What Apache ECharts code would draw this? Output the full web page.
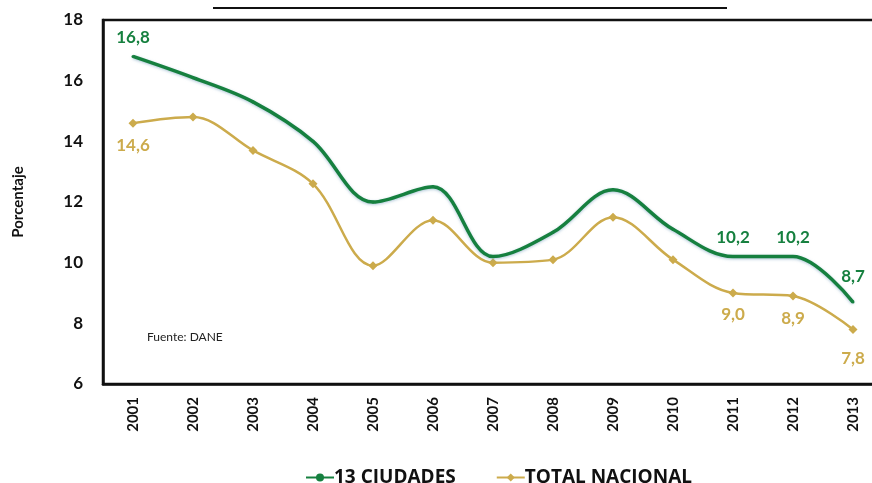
<!DOCTYPE html>
<html>
<head>
<meta charset="utf-8">
<script src="https://cdn.jsdelivr.net/npm/echarts@6/dist/echarts.min.js"></script>
<style>
  html, body { margin: 0; padding: 0; background: #fff; }
  #chart { width: 872px; height: 483px; }
</style>
</head>
<body>
<div id="chart"></div>
<script>
const years = ['2001', '2002', '2003', '2004', '2005', '2006', '2007', '2008', '2009', '2010', '2011', '2012', '2013']
const ciudades = [16.8, 16.1, 15.3, 14.0, 12.0, 12.5, 10.2, 11.0, 12.4, 11.1, 10.2, 10.2, 8.7]
const nacional = [14.6, 14.8, 13.7, 12.6, 9.9, 11.4, 10.0, 10.1, 11.5, 10.1, 9.0, 8.9, 7.8]
const labeled = [0, 10, 11, 12]
const yTicks = [6, 8, 10, 12, 14, 16, 18]

const GREEN = '#16803f'
const GOLD = '#ccab4c'
const FONT = 'Lato'

function withLabels(values, pos, color) {
  return values.map((v, i) => {
    if (labeled.indexOf(i) < 0) return v
    return {
      value: v,
      label: {
        show: true,
        position: pos,
        distance: i === 12 ? 16 : 9,
        color: color,
        fontFamily: FONT,
        fontWeight: 'bold',
        fontSize: 17,
        formatter: p => p.value.toFixed(1).replace('.', ',')
      }
    }
  })
}

const chart = echarts.init(document.getElementById('chart'))
chart.setOption({
  animation: false,
  textStyle: { fontFamily: FONT },
  grid: {
    left: 103,
    width: 780,
    top: 20,
    bottom: 99,
    outerBoundsMode: 'none',
    show: true,
    borderColor: '#111',
    borderWidth: 2.5
  },
  legend: {
    top: 463,
    left: 300,
    itemGap: 40,
    itemWidth: 28,
    itemHeight: 10,
    textStyle: { fontFamily: 'Open Sans', fontWeight: 'bold', fontSize: 19, color: '#111', padding: [0, 0, 0, -5] },
    data: ['13 CIUDADES', 'TOTAL NACIONAL']
  },
  xAxis: {
    type: 'category',
    data: years,
    boundaryGap: true,
    axisLine: { show: true, lineStyle: { color: '#111', width: 2.5 } },
    axisTick: { show: false },
    axisLabel: {
      rotate: 90,
      margin: 13,
      color: '#111',
      fontFamily: FONT,
      fontWeight: 'bold',
      fontSize: 15
    }
  },
  yAxis: {
    type: 'value',
    min: yTicks[0],
    max: yTicks[yTicks.length - 1],
    interval: 2,
    name: 'Porcentaje',
    nameLocation: 'middle',
    nameGap: 77,
    nameRotate: 90,
    nameTextStyle: { color: '#111', fontFamily: FONT, fontWeight: 'bold', fontSize: 15 },
    axisLine: { show: true, lineStyle: { color: '#111', width: 2.5 } },
    axisTick: { show: false },
    splitLine: { show: false },
    axisLabel: {
      margin: 20,
      color: '#111',
      fontFamily: FONT,
      fontWeight: 'bold',
      fontSize: 17
    }
  },
  series: [
    {
      name: '13 CIUDADES',
      type: 'line',
      smooth: 0.35,
      data: withLabels(ciudades, 'top', GREEN),
      symbol: 'circle',
      symbolSize: 3,
      showSymbol: true,
      itemStyle: { color: GREEN },
      lineStyle: {
        color: GREEN,
        width: 3.5,
        shadowColor: 'rgba(120,160,190,0.6)',
        shadowBlur: 3,
        shadowOffsetY: 1
      },
      z: 3
    },
    {
      name: 'TOTAL NACIONAL',
      type: 'line',
      smooth: 0.35,
      data: withLabels(nacional, 'bottom', GOLD),
      symbol: 'diamond',
      symbolSize: 9,
      itemStyle: { color: GOLD },
      lineStyle: { color: GOLD, width: 2.5 },
      z: 2
    }
  ],
  graphic: [
    {
      type: 'line',
      shape: { x1: 213, y1: 8, x2: 727, y2: 8 },
      style: { stroke: '#111', lineWidth: 2 }
    },
    {
      type: 'text',
      left: 147,
      top: 331,
      style: { text: 'Fuente: DANE', fill: '#222', font: '12px Lato' }
    }
  ]
})
</script>
</body>
</html>
